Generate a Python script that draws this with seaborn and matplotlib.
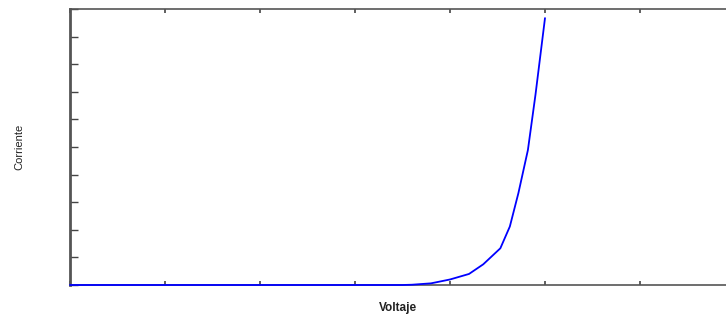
import matplotlib
matplotlib.use("Agg")
import matplotlib.pyplot as plt
import numpy as np
import pandas as pd
import seaborn as sns

# curva del diodo
voltaje = [0.0, 0.5, 1.0, 1.5, 2.0, 2.5, 3.0, 3.5, 3.6, 3.8, 4.0, 4.2, 4.35,
           4.53, 4.63, 4.72, 4.82, 4.9, 5.0]
corriente = [0.0, 0.0, 0.0, 0.0, 0.0, 0.0, 0.0, 0.0, 0.01, 0.06, 0.2, 0.4, 0.75,
             1.33, 2.12, 3.33, 4.89, 6.9, 9.67]

df = pd.DataFrame({"Voltaje": voltaje, "Corriente": corriente})

sns.set_style("ticks")
plt.rcParams['font.family'] = ['Liberation Sans', 'DejaVu Sans']

fig = plt.figure(figsize=(7.26, 3.16), dpi=100)
ax = fig.add_axes([70/726, 31/316, 665/726, 276/316])

sns.lineplot(data=df, x="Voltaje", y="Corriente", ax=ax, color="#0000ff",
             linewidth=1.3, zorder=3, clip_on=False)

ax.set_xlim(0, 7)
ax.set_ylim(0, 10)
ax.set_xticks(np.arange(0, 8, 1))
ax.set_yticks(np.arange(0, 11, 1))
ax.set_xticklabels([])
ax.set_yticklabels([])
ax.tick_params(axis="x", direction="in", length=3, width=1.2, color="#444444",
               top=True, bottom=True)
ax.tick_params(axis="y", direction="in", length=6, width=1.0, color="#444444",
               left=True, right=True)

for side in ["left", "right"]:
    ax.spines[side].set_linewidth(2)
    ax.spines[side].set_color("#555555")
for side in ["top", "bottom"]:
    ax.spines[side].set_linewidth(1.2)
    ax.spines[side].set_color("#555555")

ax.set_xlabel("Voltaje", fontsize=8.5, fontweight="bold", color="#222222")
ax.set_ylabel("Corriente", fontsize=8, color="#222222")
ax.xaxis.set_label_coords(0.493, -0.06)
ax.yaxis.set_label_coords(-0.068, 0.5)

fig.savefig("out.png", dpi=100)
